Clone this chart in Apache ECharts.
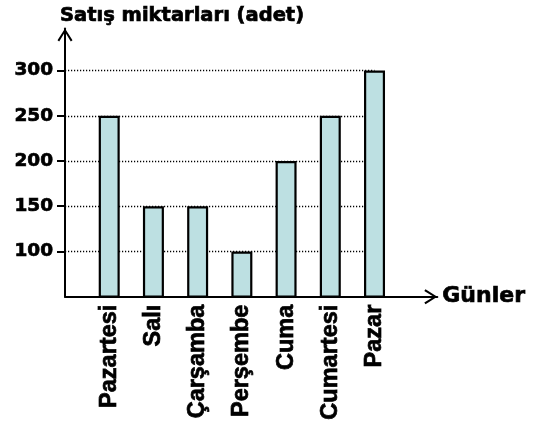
<!DOCTYPE html>
<html>
<head>
<meta charset="utf-8">
<script src="https://cdn.jsdelivr.net/npm/echarts@6/dist/echarts.min.js"></script>
<style>
html,body{margin:0;padding:0;background:#fff;}
#chart{width:533px;height:425px;}
</style>
</head>
<body>
<div id="chart"></div>
<script>
const days = ['Pazartesi', 'Salı', 'Çarşamba', 'Perşembe', 'Cuma', 'Cumartesi', 'Pazar'];
const sales = [250, 150, 150, 100, 200, 250, 300];
const yTicks = [100, 150, 200, 250, 300];
const yTitle = 'Satış miktarları (adet)';
const xTitle = 'Günler';

const chevron = 'path://M75,0 L150,118 L133,130 L75,36 L17,130 L0,118 Z';
const heavy = { textBorderColor: '#000', textBorderWidth: 0.7 };

const chart = echarts.init(document.getElementById('chart'));
chart.setOption({
  animation: false,
  backgroundColor: '#fff',
  title: {
    text: yTitle,
    left: 60,
    top: 6,
    padding: 0,
    textStyle: Object.assign({ fontFamily: 'DejaVu Sans', fontWeight: 'bold', fontSize: 19.5, color: '#000' }, heavy)
  },
  grid: { left: 65, right: 95.7, top: 28.5, bottom: 128.3, containLabel: false, outerBoundsMode: 'none' },
  xAxis: {
    type: 'value',
    min: -1,
    max: 7.42,
    interval: 1,
    name: xTitle,
    nameLocation: 'end',
    nameGap: 5,
    nameTextStyle: Object.assign({ fontFamily: 'DejaVu Sans', fontWeight: 'bold', fontSize: 22, color: '#000', verticalAlign: 'middle' }, heavy),
    axisLine: {
      onZero: false,
      lineStyle: { color: '#000', width: 2 },
      symbol: ['none', chevron],
      symbolSize: [15, 13],
      symbolOffset: [0, -6.5]
    },
    axisTick: { show: false },
    splitLine: { show: false },
    axisLabel: Object.assign({
      customValues: days.map((d, i) => i),
      formatter: v => days[v] || '',
      rotate: 90,
      margin: 8,
      fontFamily: 'Liberation Sans',
      fontWeight: 'bold',
      fontSize: 23.5,
      color: '#000'
    }, heavy)
  },
  yAxis: {
    type: 'value',
    min: 50,
    max: 346.5,
    interval: 50,
    axisLine: {
      onZero: false,
      lineStyle: { color: '#000', width: 2 },
      symbol: ['none', chevron],
      symbolSize: [15, 13],
      symbolOffset: [0, -6.5]
    },
    axisTick: { show: true, customValues: yTicks, length: 8, lineStyle: { color: '#000', width: 2 } },
    splitLine: { show: false },
    axisLabel: Object.assign({
      customValues: yTicks,
      formatter: v => (yTicks.indexOf(v) >= 0 ? String(v) : ''),
      margin: 12,
      fontFamily: 'DejaVu Sans',
      fontWeight: 'bold',
      fontSize: 18.5,
      color: '#000'
    }, heavy)
  },
  series: [{
    type: 'bar',
    z: 2,
    barWidth: 21,
    data: days.map((d, i) => [i, sales[i]]),
    itemStyle: { color: '#bde0e2', borderColor: '#000', borderWidth: 2.2 },
    markLine: {
      z: 1,
      silent: true,
      symbol: 'none',
      label: { show: false },
      lineStyle: { color: '#000', width: 1.4, type: [1.2, 1.8] },
      emphasis: { disabled: true },
      data: yTicks.map(v => [{ coord: [-1, v] }, { coord: [6, v] }])
    }
  }]
});
</script>
</body>
</html>
